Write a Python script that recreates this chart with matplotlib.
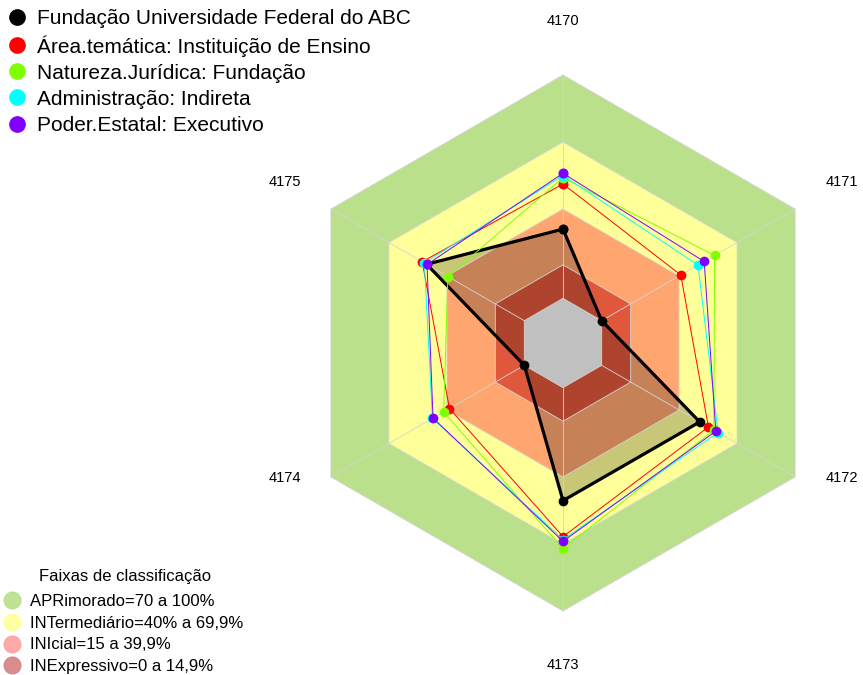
import numpy as np
import matplotlib.pyplot as plt
from matplotlib.lines import Line2D

plt.rcParams['font.family'] = ['Liberation Sans', 'DejaVu Sans']

# eixos do radar (sentido horário a partir do topo)
eixos = ["4170", "4171", "4172", "4173", "4174", "4175"]

ufabc = [31, 0, 50.7, 50.6, 0, 50.5]
area_tematica = [51.2, 40.9, 55.2, 66.7, 38.7, 52.8]
natureza_juridica = [54, 58.4, 58, 72.1, 41.7, 39.5]
administracao = [55, 49.8, 60.2, 68, 47.5, 51.7]
poder_estatal = [56, 53, 59, 68.8, 47.2, 50.3]

nomes_series = [
    "Fundação Universidade Federal do ABC",
    "Área.temática: Instituição de Ensino",
    "Natureza.Jurídica: Fundação",
    "Administração: Indireta",
    "Poder.Estatal: Executivo",
]
cores_series = ["black", "#ff0000", "#80ff00", "#00ffff", "#8000ff"]

# faixas de classificação
limites_faixas = [100, 70, 40, 15]
cores_faixas = ["#bbe08c", "#ffff99", "#ffa670", "#e0583c"]
nomes_faixas = [
    "APRimorado=70 a 100%",
    "INTermediário=40% a 69,9%",
    "INIcial=15 a 39,9%",
    "INExpressivo=0 a 14,9%",
]
cores_legenda_faixas = ["#b8e08a", "#ffff99", "#ffa0a0", "#d88080"]

angulos = np.arange(len(eixos)) * 2 * np.pi / len(eixos)


def xy(valores, fechar=True):
    # escala radial: o zero fica a 1/6 do raio (centro = -20)
    v = np.asarray(valores, dtype=float)
    a = angulos
    if fechar:
        v = np.append(v, v[0])
        a = np.append(a, a[0])
    r = (v + 20) / 120
    return r * np.sin(a), r * np.cos(a)


fig = plt.figure(figsize=(8.63, 6.75), dpi=100)
ax = fig.add_axes([0, 0, 1, 1])
R = 268
ax.set_xlim(-563 / R, 300 / R)
ax.set_ylim(-332 / R, 343 / R)
ax.axis("off")

# faixas
for lim, cor in zip(limites_faixas, cores_faixas):
    x, y = xy([lim] * 6)
    ax.fill(x, y, color=cor, lw=0, zorder=1)

# área preenchida da UFABC
x, y = xy(ufabc)
ax.fill(x, y, color="black", alpha=0.22, lw=0, zorder=2)

# centro cinza
x, y = xy([0] * 6)
ax.fill(x, y, color="#c0c0c0", lw=0, zorder=3)

# grade
for lim in limites_faixas + [0]:
    x, y = xy([lim] * 6)
    ax.plot(x, y, color="#d4d4d4", lw=0.6, zorder=4)
x0, y0 = xy([0] * 6, fechar=False)
x1, y1 = xy([100] * 6, fechar=False)
for i in range(len(eixos)):
    ax.plot([x0[i], x1[i]], [y0[i], y1[i]], color="#d4d4d4", lw=0.6, zorder=4)

# séries
series = [ufabc, area_tematica, natureza_juridica, administracao, poder_estatal]
for i, (valores, cor) in enumerate(zip(series, cores_series)):
    x, y = xy(valores)
    if i == 0:
        ax.plot(x, y, color=cor, lw=2.3, marker="o", markersize=6, zorder=5)
    else:
        ax.plot(x, y, color=cor, lw=0.7, marker="o", markersize=7,
                markeredgewidth=0, zorder=5 + i)

# rótulos dos eixos (os de baixo nas laterais ficam um pouco mais altos)
lx, ly = xy([124] * 6, fechar=False)
for i, nome in enumerate(eixos):
    dy = 0
    if ly[i] < 0 and abs(lx[i]) > 0.01:
        dy = 26 / R
    ax.text(lx[i], ly[i] + dy, nome, fontsize=10.5, ha="center", va="center")

# legendas
handles = [Line2D([], [], marker="o", ls="", color=c, markersize=11)
           for c in cores_series]
leg1 = ax.legend(handles, nomes_series, loc="upper left",
                 bbox_to_anchor=(6.6 / 863, 1 - 9 / 675),
                 bbox_transform=fig.transFigure, frameon=False, fontsize=15,
                 handlelength=1, handletextpad=0.46, labelspacing=0.34,
                 borderpad=0, borderaxespad=0)
ax.add_artist(leg1)

handles2 = [Line2D([], [], marker="o", ls="", color=c, markersize=12, alpha=0.9)
            for c in cores_legenda_faixas]
ax.legend(handles2, nomes_faixas, loc="lower left",
          bbox_to_anchor=(3.7 / 863, 1 / 675),
          bbox_transform=fig.transFigure, frameon=False, fontsize=12,
          handlelength=1.0, handletextpad=0.6, labelspacing=0.4,
          borderpad=0, borderaxespad=0)
fig.text(125 / 863, 1 - 576 / 675, "Faixas de classificação", fontsize=12,
         ha="center", va="center")

fig.savefig("out.png", dpi=100)
